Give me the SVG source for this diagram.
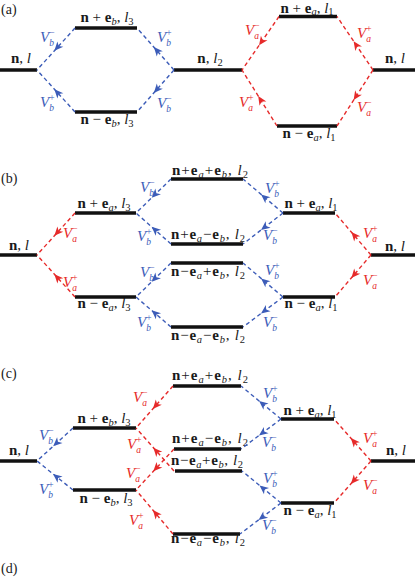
<svg xmlns="http://www.w3.org/2000/svg" width="415" height="577" viewBox="0 0 415 577" font-family="'Liberation Serif', 'DejaVu Serif', 'Times New Roman', serif">
<style>
.bar{stroke:#111;stroke-width:3.5;fill:none}
.cb{stroke:#3c5cb8;stroke-width:1.4;stroke-dasharray:4 3;fill:none;marker-mid:url(#ab)}
.cr{stroke:#e62a2a;stroke-width:1.4;stroke-dasharray:4 3;fill:none;marker-mid:url(#ar)}
text{font-family:'Liberation Serif','DejaVu Serif','Times New Roman',serif;font-size:15px;fill:#1a1a1a}
.st{text-anchor:middle}
.b{font-weight:bold}
.i{font-style:italic}
.s{font-size:10.5px}
.v{font-style:italic}
.vb{fill:#3c5cb8}
.vr{fill:#e62a2a}
.sp{font-style:normal;font-size:9.5px}
.sb{font-style:italic;font-size:9.5px}
.pl{font-size:14px}
</style>
<defs>
<marker id="ab" markerUnits="userSpaceOnUse" markerWidth="14" markerHeight="12" viewBox="-10 -6 14 12" refX="0" refY="0" orient="auto" overflow="visible"><path d="M2.5,0 L-6.5,-4 L-4,0 L-6.5,4 Z" fill="#3c5cb8"/></marker>
<marker id="ar" markerUnits="userSpaceOnUse" markerWidth="14" markerHeight="12" viewBox="-10 -6 14 12" refX="0" refY="0" orient="auto" overflow="visible"><path d="M2.5,0 L-6.5,-4 L-4,0 L-6.5,4 Z" fill="#e62a2a"/></marker>
</defs>

<text class="pl" x="1" y="14">(a)</text>
<text class="pl" x="1" y="183">(b)</text>
<text class="pl" x="1" y="378">(c)</text>
<text class="pl" x="1" y="573">(d)</text>

<!-- Panel (a) nodes -->
<g id="a-nl-left"><line class="bar" x1="0" y1="70" x2="37" y2="70"/><text class="st" x="21" y="63"><tspan class="b">n</tspan>, <tspan class="i">l</tspan></text></g>
<g id="a-n-pb-l3"><line class="bar" x1="75" y1="28" x2="137" y2="28"/><text class="st" x="107" y="22"><tspan class="b">n</tspan> + <tspan class="b">e</tspan><tspan class="s i" dy="3">b</tspan><tspan dy="-3">, </tspan><tspan class="i">l</tspan><tspan class="s" dy="3">3</tspan></text></g>
<g id="a-n-mb-l3"><line class="bar" x1="75" y1="112" x2="137" y2="112"/><text class="st" x="107" y="124"><tspan class="b">n</tspan> − <tspan class="b">e</tspan><tspan class="s i" dy="3">b</tspan><tspan dy="-3">, </tspan><tspan class="i">l</tspan><tspan class="s" dy="3">3</tspan></text></g>
<g id="a-nl2"><line class="bar" x1="174" y1="70" x2="242" y2="70"/><text class="st" x="210" y="63"><tspan class="b">n</tspan>, <tspan class="i">l</tspan><tspan class="s" dy="3">2</tspan></text></g>
<g id="a-n-pa-l1"><line class="bar" x1="279" y1="16.5" x2="337" y2="16.5"/><text class="st" x="307" y="12.5"><tspan class="b">n</tspan> + <tspan class="b">e</tspan><tspan class="s i" dy="2">a</tspan><tspan dy="-2">, </tspan><tspan class="i">l</tspan><tspan class="s" dy="2">1</tspan></text></g>
<g id="a-n-ma-l1"><line class="bar" x1="277" y1="126" x2="337" y2="126"/><text class="st" x="309" y="138"><tspan class="b">n</tspan> − <tspan class="b">e</tspan><tspan class="s i" dy="3">a</tspan><tspan dy="-3">, </tspan><tspan class="i">l</tspan><tspan class="s" dy="3">1</tspan></text></g>
<g id="a-nl-right"><line class="bar" x1="373" y1="70" x2="415" y2="70"/><text class="st" x="395" y="63"><tspan class="b">n</tspan>, <tspan class="i">l</tspan></text></g>

<!-- Panel (b) nodes -->
<g id="b-nl-left"><line class="bar" x1="0" y1="255" x2="37" y2="255"/><text class="st" x="19" y="250"><tspan class="b">n</tspan>, <tspan class="i">l</tspan></text></g>
<g id="b-n-pa-l3"><line class="bar" x1="75" y1="213" x2="136" y2="213"/><text class="st" x="104" y="208"><tspan class="b">n</tspan> + <tspan class="b">e</tspan><tspan class="s i" dy="3">a</tspan><tspan dy="-3">, </tspan><tspan class="i">l</tspan><tspan class="s" dy="3">3</tspan></text></g>
<g id="b-n-ma-l3"><line class="bar" x1="75" y1="297" x2="136" y2="297"/><text class="st" x="104" y="308"><tspan class="b">n</tspan> − <tspan class="b">e</tspan><tspan class="s i" dy="3">a</tspan><tspan dy="-3">, </tspan><tspan class="i">l</tspan><tspan class="s" dy="3">3</tspan></text></g>
<g id="b-n-pa-pb-l2"><line class="bar" x1="171" y1="179" x2="243" y2="179"/><text class="st" x="210" y="175" textLength="76" lengthAdjust="spacing"><tspan class="b">n</tspan>+<tspan class="b">e</tspan><tspan class="s i" dy="3">a</tspan><tspan dy="-3">+</tspan><tspan class="b">e</tspan><tspan class="s i" dy="3">b</tspan><tspan dy="-3">, </tspan><tspan class="i">l</tspan><tspan class="s" dy="3">2</tspan></text></g>
<g id="b-n-pa-mb-l2"><line class="bar" x1="171" y1="244" x2="243" y2="244"/><text class="st" x="208" y="239" textLength="74" lengthAdjust="spacing"><tspan class="b">n</tspan>+<tspan class="b">e</tspan><tspan class="s i" dy="3">a</tspan><tspan dy="-3">−</tspan><tspan class="b">e</tspan><tspan class="s i" dy="3">b</tspan><tspan dy="-3">, </tspan><tspan class="i">l</tspan><tspan class="s" dy="3">2</tspan></text></g>
<g id="b-n-ma-pb-l2"><line class="bar" x1="171" y1="263" x2="243" y2="263"/><text class="st" x="208" y="276" textLength="74" lengthAdjust="spacing"><tspan class="b">n</tspan>−<tspan class="b">e</tspan><tspan class="s i" dy="3">a</tspan><tspan dy="-3">+</tspan><tspan class="b">e</tspan><tspan class="s i" dy="3">b</tspan><tspan dy="-3">, </tspan><tspan class="i">l</tspan><tspan class="s" dy="3">2</tspan></text></g>
<g id="b-n-ma-mb-l2"><line class="bar" x1="171" y1="327" x2="243" y2="327"/><text class="st" x="208" y="340" textLength="74" lengthAdjust="spacing"><tspan class="b">n</tspan>−<tspan class="b">e</tspan><tspan class="s i" dy="3">a</tspan><tspan dy="-3">−</tspan><tspan class="b">e</tspan><tspan class="s i" dy="3">b</tspan><tspan dy="-3">, </tspan><tspan class="i">l</tspan><tspan class="s" dy="3">2</tspan></text></g>
<g id="b-n-pa-l1"><line class="bar" x1="283" y1="213" x2="335" y2="213"/><text class="st" x="311" y="208"><tspan class="b">n</tspan> + <tspan class="b">e</tspan><tspan class="s i" dy="3">a</tspan><tspan dy="-3">, </tspan><tspan class="i">l</tspan><tspan class="s" dy="3">1</tspan></text></g>
<g id="b-n-ma-l1"><line class="bar" x1="283" y1="297" x2="335" y2="297"/><text class="st" x="311" y="308"><tspan class="b">n</tspan> − <tspan class="b">e</tspan><tspan class="s i" dy="3">a</tspan><tspan dy="-3">, </tspan><tspan class="i">l</tspan><tspan class="s" dy="3">1</tspan></text></g>
<g id="b-nl-right"><line class="bar" x1="371" y1="255" x2="415" y2="255"/><text class="st" x="395" y="251"><tspan class="b">n</tspan>, <tspan class="i">l</tspan></text></g>

<!-- Panel (c) nodes -->
<g id="c-nl-left"><line class="bar" x1="0" y1="461" x2="37" y2="461"/><text class="st" x="19" y="455"><tspan class="b">n</tspan>, <tspan class="i">l</tspan></text></g>
<g id="c-n-pb-l3"><line class="bar" x1="73" y1="428" x2="136" y2="428"/><text class="st" x="104" y="423"><tspan class="b">n</tspan> + <tspan class="b">e</tspan><tspan class="s i" dy="3">b</tspan><tspan dy="-3">, </tspan><tspan class="i">l</tspan><tspan class="s" dy="3">3</tspan></text></g>
<g id="c-n-mb-l3"><line class="bar" x1="73" y1="490" x2="136" y2="490"/><text class="st" x="106" y="503"><tspan class="b">n</tspan> − <tspan class="b">e</tspan><tspan class="s i" dy="3">b</tspan><tspan dy="-3">, </tspan><tspan class="i">l</tspan><tspan class="s" dy="3">3</tspan></text></g>
<g id="c-n-pa-pb-l2"><line class="bar" x1="173" y1="386" x2="241" y2="386"/><text class="st" x="210" y="380" textLength="76" lengthAdjust="spacing"><tspan class="b">n</tspan>+<tspan class="b">e</tspan><tspan class="s i" dy="3">a</tspan><tspan dy="-3">+</tspan><tspan class="b">e</tspan><tspan class="s i" dy="3">b</tspan><tspan dy="-3">, </tspan><tspan class="i">l</tspan><tspan class="s" dy="3">2</tspan></text></g>
<g id="c-n-pa-mb-l2"><line class="bar" x1="174" y1="449" x2="241" y2="449"/><text class="st" x="210" y="443" textLength="76" lengthAdjust="spacing"><tspan class="b">n</tspan>+<tspan class="b">e</tspan><tspan class="s i" dy="3">a</tspan><tspan dy="-3">−</tspan><tspan class="b">e</tspan><tspan class="s i" dy="3">b</tspan><tspan dy="-3">, </tspan><tspan class="i">l</tspan><tspan class="s" dy="3">2</tspan></text></g>
<g id="c-n-ma-pb-l2"><line class="bar" x1="175" y1="471" x2="242" y2="471"/><text class="st" x="207" y="465" textLength="72" lengthAdjust="spacing"><tspan class="b">n</tspan>−<tspan class="b">e</tspan><tspan class="s i" dy="3">a</tspan><tspan dy="-3">+</tspan><tspan class="b">e</tspan><tspan class="s i" dy="3">b</tspan><tspan dy="-3">, </tspan><tspan class="i">l</tspan><tspan class="s" dy="3">2</tspan></text></g>
<g id="c-n-ma-mb-l2"><line class="bar" x1="173" y1="534" x2="240" y2="534"/><text class="st" x="208" y="543" textLength="74" lengthAdjust="spacing"><tspan class="b">n</tspan>−<tspan class="b">e</tspan><tspan class="s i" dy="3">a</tspan><tspan dy="-3">−</tspan><tspan class="b">e</tspan><tspan class="s i" dy="3">b</tspan><tspan dy="-3">, </tspan><tspan class="i">l</tspan><tspan class="s" dy="3">2</tspan></text></g>
<g id="c-n-pa-l1"><line class="bar" x1="281" y1="419" x2="334" y2="419"/><text class="st" x="310" y="415"><tspan class="b">n</tspan> + <tspan class="b">e</tspan><tspan class="s i" dy="3">a</tspan><tspan dy="-3">, </tspan><tspan class="i">l</tspan><tspan class="s" dy="3">1</tspan></text></g>
<g id="c-n-ma-l1"><line class="bar" x1="281" y1="503" x2="334" y2="503"/><text class="st" x="310" y="515"><tspan class="b">n</tspan> − <tspan class="b">e</tspan><tspan class="s i" dy="3">a</tspan><tspan dy="-3">, </tspan><tspan class="i">l</tspan><tspan class="s" dy="3">1</tspan></text></g>
<g id="c-nl-right"><line class="bar" x1="371" y1="461" x2="415" y2="461"/><text class="st" x="396" y="455"><tspan class="b">n</tspan>, <tspan class="i">l</tspan></text></g>

<g id="connectors">
<!-- (a) -->
<polyline class="cb" points="75,28 56,49 37,70"/>
<text class="v vb" x="40" y="42">V<tspan class="sp" dy="-6.5">−</tspan><tspan class="sb" dx="-5.4" dy="10.7">b</tspan></text>
<polyline class="cb" points="174,70 155.5,49 137,28"/>
<text class="v vb" x="157" y="42">V<tspan class="sp" dy="-6.5">+</tspan><tspan class="sb" dx="-5.4" dy="10.7">b</tspan></text>
<polyline class="cb" points="75,112 56,91 37,70"/>
<text class="v vb" x="40" y="107">V<tspan class="sp" dy="-6.5">+</tspan><tspan class="sb" dx="-5.4" dy="10.7">b</tspan></text>
<polyline class="cb" points="174,70 155.5,91 137,112"/>
<text class="v vb" x="157" y="108">V<tspan class="sp" dy="-6.5">−</tspan><tspan class="sb" dx="-5.4" dy="10.7">b</tspan></text>
<polyline class="cr" points="279,16.5 260.5,43.25 242,70"/>
<text class="v vr" x="245" y="35">V<tspan class="sp" dy="-6.5">−</tspan><tspan class="sb" dx="-5.4" dy="10.7">a</tspan></text>
<polyline class="cr" points="373,70 355,43.25 337,16.5"/>
<text class="v vr" x="357" y="38">V<tspan class="sp" dy="-6.5">+</tspan><tspan class="sb" dx="-5.4" dy="10.7">a</tspan></text>
<polyline class="cr" points="277,126 259.5,98 242,70"/>
<text class="v vr" x="239" y="107">V<tspan class="sp" dy="-6.5">+</tspan><tspan class="sb" dx="-5.4" dy="10.7">a</tspan></text>
<polyline class="cr" points="373,70 355,98 337,126"/>
<text class="v vr" x="357" y="112">V<tspan class="sp" dy="-6.5">−</tspan><tspan class="sb" dx="-5.4" dy="10.7">a</tspan></text>
<!-- (b) -->
<polyline class="cr" points="75,213 56,234 37,255"/>
<text class="v vr" x="63" y="238">V<tspan class="sp" dy="-6.5">−</tspan><tspan class="sb" dx="-5.4" dy="10.7">a</tspan></text>
<polyline class="cr" points="75,297 56,276 37,255"/>
<text class="v vr" x="63" y="287">V<tspan class="sp" dy="-6.5">+</tspan><tspan class="sb" dx="-5.4" dy="10.7">a</tspan></text>
<polyline class="cb" points="171,179 153.5,196 136,213"/>
<text class="v vb" x="140" y="192">V<tspan class="sp" dy="-6.5">−</tspan><tspan class="sb" dx="-5.4" dy="10.7">b</tspan></text>
<polyline class="cb" points="171,244 153.5,228.5 136,213"/>
<text class="v vb" x="137" y="241">V<tspan class="sp" dy="-6.5">+</tspan><tspan class="sb" dx="-5.4" dy="10.7">b</tspan></text>
<polyline class="cb" points="171,263 153.5,280 136,297"/>
<text class="v vb" x="140" y="277">V<tspan class="sp" dy="-6.5">−</tspan><tspan class="sb" dx="-5.4" dy="10.7">b</tspan></text>
<polyline class="cb" points="171,327 153.5,312 136,297"/>
<text class="v vb" x="137" y="327">V<tspan class="sp" dy="-6.5">+</tspan><tspan class="sb" dx="-5.4" dy="10.7">b</tspan></text>
<polyline class="cb" points="283,213 263,196 243,179"/>
<text class="v vb" x="265" y="193">V<tspan class="sp" dy="-6.5">+</tspan><tspan class="sb" dx="-5.4" dy="10.7">b</tspan></text>
<polyline class="cb" points="283,213 263,228.5 243,244"/>
<text class="v vb" x="263" y="240">V<tspan class="sp" dy="-6.5">−</tspan><tspan class="sb" dx="-5.4" dy="10.7">b</tspan></text>
<polyline class="cb" points="283,297 263,280 243,263"/>
<text class="v vb" x="265" y="275">V<tspan class="sp" dy="-6.5">+</tspan><tspan class="sb" dx="-5.4" dy="10.7">b</tspan></text>
<polyline class="cb" points="283,297 263,312 243,327"/>
<text class="v vb" x="263" y="327">V<tspan class="sp" dy="-6.5">−</tspan><tspan class="sb" dx="-5.4" dy="10.7">b</tspan></text>
<polyline class="cr" points="371,255 353,234 335,213"/>
<text class="v vr" x="363" y="238">V<tspan class="sp" dy="-6.5">+</tspan><tspan class="sb" dx="-5.4" dy="10.7">a</tspan></text>
<polyline class="cr" points="371,255 353,276 335,297"/>
<text class="v vr" x="363" y="285">V<tspan class="sp" dy="-6.5">−</tspan><tspan class="sb" dx="-5.4" dy="10.7">a</tspan></text>
<!-- (c) -->
<polyline class="cb" points="73,428 55,444.5 37,461"/>
<text class="v vb" x="39" y="440">V<tspan class="sp" dy="-6.5">−</tspan><tspan class="sb" dx="-5.4" dy="10.7">b</tspan></text>
<polyline class="cb" points="73,490 55,475.5 37,461"/>
<text class="v vb" x="39" y="494">V<tspan class="sp" dy="-6.5">+</tspan><tspan class="sb" dx="-5.4" dy="10.7">b</tspan></text>
<polyline class="cr" points="173,386 154.5,407 136,428"/>
<text class="v vr" x="133" y="402">V<tspan class="sp" dy="-6.5">−</tspan><tspan class="sb" dx="-5.4" dy="10.7">a</tspan></text>
<polyline class="cr" points="174,471 155,449.5 136,428"/>
<text class="v vr" x="127" y="449">V<tspan class="sp" dy="-6.5">+</tspan><tspan class="sb" dx="-5.4" dy="10.7">a</tspan></text>
<polyline class="cr" points="174,449 155,469.5 136,490"/>
<text class="v vr" x="126" y="478">V<tspan class="sp" dy="-6.5">−</tspan><tspan class="sb" dx="-5.4" dy="10.7">a</tspan></text>
<polyline class="cr" points="173,534 154.5,512 136,490"/>
<text class="v vr" x="129" y="525">V<tspan class="sp" dy="-6.5">+</tspan><tspan class="sb" dx="-5.4" dy="10.7">a</tspan></text>
<polyline class="cb" points="281,419 261,402.5 241,386"/>
<text class="v vb" x="263" y="398">V<tspan class="sp" dy="-6.5">+</tspan><tspan class="sb" dx="-5.4" dy="10.7">b</tspan></text>
<polyline class="cb" points="281,419 261,434 241,449"/>
<text class="v vb" x="262" y="447">V<tspan class="sp" dy="-6.5">−</tspan><tspan class="sb" dx="-5.4" dy="10.7">b</tspan></text>
<polyline class="cb" points="281,503 261.5,487 242,471"/>
<text class="v vb" x="263" y="483">V<tspan class="sp" dy="-6.5">+</tspan><tspan class="sb" dx="-5.4" dy="10.7">b</tspan></text>
<polyline class="cb" points="281,503 260.5,518.5 240,534"/>
<text class="v vb" x="262" y="530">V<tspan class="sp" dy="-6.5">−</tspan><tspan class="sb" dx="-5.4" dy="10.7">b</tspan></text>
<polyline class="cr" points="371,461 352.5,440 334,419"/>
<text class="v vr" x="363" y="443">V<tspan class="sp" dy="-6.5">+</tspan><tspan class="sb" dx="-5.4" dy="10.7">a</tspan></text>
<polyline class="cr" points="371,461 352.5,482 334,503"/>
<text class="v vr" x="363" y="490">V<tspan class="sp" dy="-6.5">−</tspan><tspan class="sb" dx="-5.4" dy="10.7">a</tspan></text>
</g>
</svg>
